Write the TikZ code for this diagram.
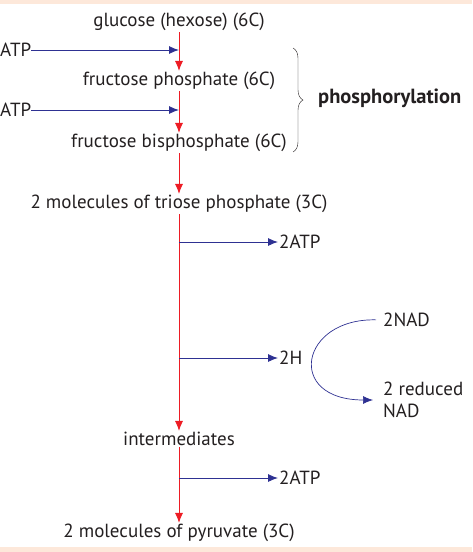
\documentclass[tikz,border=0pt]{standalone}
\usepackage{fontspec}
\setmainfont{PT Sans}
\usetikzlibrary{arrows.meta, decorations.pathreplacing}
\tikzset{>={Latex[length=10pt, width=8pt]}}
\definecolor{myred}{RGB}{237, 28, 36}
\definecolor{myblue}{RGB}{46, 49, 146}
\definecolor{mypeach}{RGB}{253, 232, 218}
\definecolor{mytext}{RGB}{35, 31, 32}
\tikzset{redarr/.style={->, myred, line width=0.9pt},
  bluearr/.style={->, myblue, line width=0.9pt}}

\begin{document}
\begin{tikzpicture}[x = 1pt, y = -1pt, font = \fontsize{19}{22}\selectfont,
  every node/.style = {text = mytext, inner sep = 1pt}]
\useasboundingbox (0, 0) rectangle (472, 552);
\fill[mypeach] (0, 0) rectangle (472, 4);
\fill[mypeach] (0, 547) rectangle (472, 552);
% main chain
\node (glu) at (179, 22) {glucose (hexose) (6C)};
\node (fp) at (179, 81) {fructose phosphate (6C)};
\node (fbp) at (179, 143) {fructose bisphosphate (6C)};
\node (tri) at (179, 204) {2 molecules of triose phosphate (3C)};
\node (inter) at (179, 439) {intermediates};
\node (pyr) at (179, 533) {2 molecules of pyruvate (3C)};
\draw[redarr] (glu) -- (fp);
\draw[redarr] (fp) -- (fbp);
\draw[redarr] (fbp) -- (tri);
\draw[redarr] (tri) -- (inter);
\draw[redarr] (inter) -- (pyr);
% ATP in
\node[anchor = west, inner sep = 0pt] (atpA) at (0, 50) {ATP};
\node[anchor = west, inner sep = 0pt] (atpB) at (0, 110) {ATP};
\coordinate (jA) at (179, 50);
\coordinate (jB) at (179, 110);
\draw[bluearr] (atpA) -- (jA);
\draw[bluearr] (atpB) -- (jB);
% brace
\coordinate (brT) at (293, 48);
\coordinate (brB) at (293, 152);
\draw[mytext, thin, decorate, decoration = {brace, amplitude = 10pt}] (brT) -- (brB);
\node[anchor = west, font = \fontsize{20.5}{22}\selectfont\bfseries] (phos) at (317, 98) {phosphorylation};
% ATP and H out
\coordinate (kA) at (179, 242);
\coordinate (kB) at (179, 358);
\coordinate (kC) at (179, 478);
\node[anchor = west] (atpC) at (278, 242) {2ATP};
\node[anchor = west] (hh) at (278, 358) {2H};
\node[anchor = west] (atpD) at (278, 478) {2ATP};
\draw[bluearr] (kA) -- (atpC);
\draw[bluearr] (kB) -- (hh);
\draw[bluearr] (kC) -- (atpD);
% NAD
\node[anchor = west] (nad) at (382, 320) {2NAD};
\node[anchor = west, align = left] (rnad) at (382, 400) {2 reduced\\NAD};
\draw[bluearr, line width = 0.7pt, shorten < = 6pt, shorten > = 9pt] (nad.west) .. controls (300, 318) and (285, 400) .. (rnad.west);
\end{tikzpicture}
\end{document}
